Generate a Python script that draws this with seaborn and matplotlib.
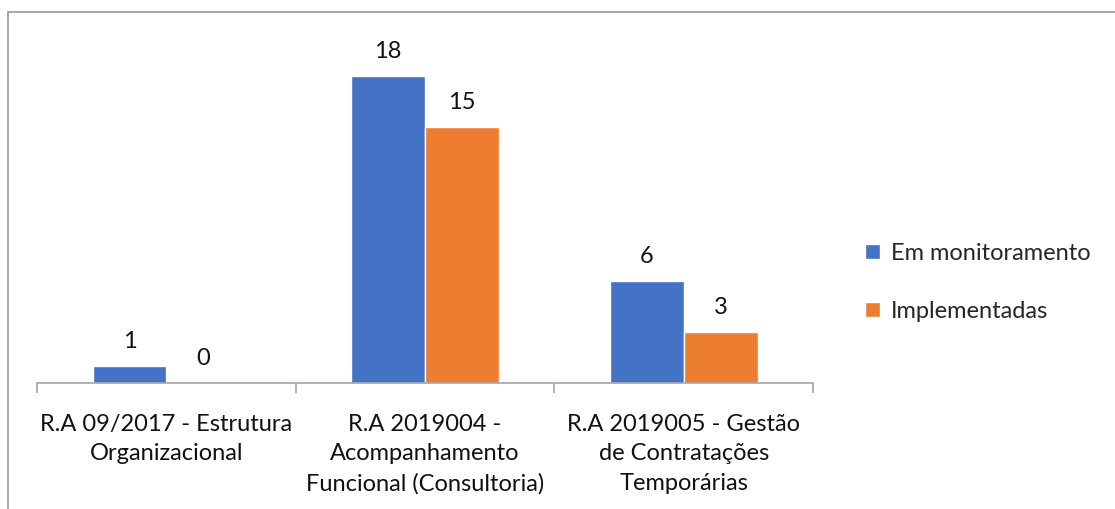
"""Grouped bar chart: recomendações em monitoramento x implementadas"""

import pandas as pd
import matplotlib.pyplot as plt
import seaborn as sns
from matplotlib.patches import Rectangle

categorias = [
    "R.A 09/2017 - Estrutura\nOrganizacional",
    "R.A 2019004 -\nAcompanhamento\nFuncional (Consultoria)",
    "R.A 2019005 - Gestão\nde Contratações\nTemporárias",
]
em_monitoramento = [1, 18, 6]
implementadas = [0, 15, 3]
series = ["Em monitoramento", "Implementadas"]
cores = ["#4472C4", "#ED7D31"]


def build_df():
    rows = []
    for cat, a, b in zip(categorias, em_monitoramento, implementadas):
        rows.append({"cat": cat, "serie": series[0], "valor": a})
        rows.append({"cat": cat, "serie": series[1], "valor": b})
    return pd.DataFrame(rows)


if __name__ == "__main__":
    sns.set_style("white")
    plt.rcParams["font.family"] = ["Lato", "DejaVu Sans"]

    df = build_df()
    fig = plt.figure(figsize=(11.15, 5.09), dpi=100)
    ax = fig.add_axes([0.0332, 0.2475, 0.696, 0.67])

    sns.barplot(data=df, x="cat", y="valor", hue="serie", palette=cores,
                width=0.571, saturation=1, ax=ax, legend=True)

    # data labels
    for cont in ax.containers:
        ax.bar_label(cont, padding=10, fontsize=17, color="#111111")

    ax.set_xlim(-0.5, 2.5)
    ax.set_ylim(0, 20)
    ax.set_xlabel("")
    ax.set_ylabel("")
    ax.set_yticks([])
    for s in ["top", "left", "right"]:
        ax.spines[s].set_visible(False)
    ax.spines["bottom"].set_color("#A6A6A6")
    ax.spines["bottom"].set_linewidth(1.2)

    ax.tick_params(axis="x", which="major", length=0, pad=22,
                   labelsize=17, labelcolor="#111111")
    ax.set_xticks([-0.5, 0.5, 1.5, 2.5], minor=True)
    ax.tick_params(axis="x", which="minor", bottom=True, length=7,
                   color="#A6A6A6", width=1.2, direction="out")
    for lbl in ax.get_xticklabels():
        lbl.set_linespacing(1.5)

    ax.legend(loc="center left", bbox_to_anchor=(1.04, 0.295), frameon=False,
              fontsize=17, handlelength=0.6, handleheight=0.6,
              labelspacing=1.6, handletextpad=0.5)

    # outer chart border (cut off at right/bottom)
    fig.patches.append(Rectangle((8 / 1115, -0.05), 1.1, 1 - 12 / 509 + 0.05,
                                 transform=fig.transFigure, fill=False,
                                 edgecolor="#A0A0A0", linewidth=1.3))

    fig.savefig("out.png", dpi=100)
